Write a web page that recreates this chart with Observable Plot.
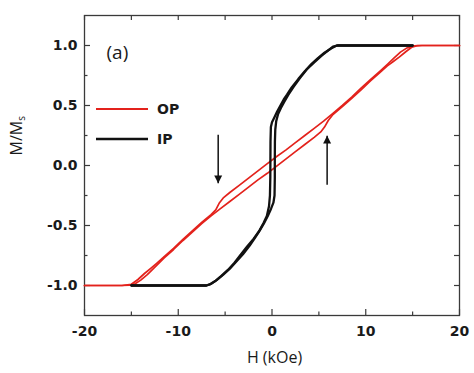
<!DOCTYPE html>
<html><head><meta charset="utf-8">
<script src="https://cdn.jsdelivr.net/npm/d3@7"></script>
<script src="https://cdn.jsdelivr.net/npm/@observablehq/plot@0.6"></script>
<style>body{margin:0;background:#fff}</style>
</head><body><div id="chart"></div>
<script>
// ---- Data ----
// IP (in-plane), descending branch (+15 -> -15 kOe)
const ipDownH = [15, 12, 9, 6.9, 6.3, 5.6, 4.9, 4.2, 3.5, 2.8, 2.1, 1.6, 1.25, 0.9, 0.55, 0.25, 0.0, -0.12, -0.16, -0.17, -0.18, -0.22, -0.32, -0.55, -0.9, -1.4, -1.95, -2.65, -3.3, -4.0, -4.7, -5.4, -6.0, -6.6, -7.0, -9, -12, -15];
const ipDownM = [1, 1, 1, 1, 0.975, 0.94, 0.895, 0.845, 0.785, 0.72, 0.65, 0.59, 0.55, 0.5, 0.45, 0.4, 0.36, 0.32, 0.2, 0.05, -0.1, -0.25, -0.34, -0.42, -0.48, -0.55, -0.61, -0.675, -0.74, -0.81, -0.87, -0.92, -0.96, -0.99, -1, -1, -1, -1];
// IP, ascending branch (-15 -> +15 kOe)
const ipUpH = [-15, -12, -9, -7.0, -6.5, -5.9, -5.2, -4.5, -3.8, -3.1, -2.4, -1.8, -1.3, -0.85, -0.45, -0.1, 0.15, 0.27, 0.3, 0.3, 0.31, 0.35, 0.45, 0.65, 0.95, 1.3, 1.75, 2.3, 3.0, 3.7, 4.5, 5.3, 6.0, 6.5, 7.0, 9, 12, 15];
const ipUpM = [-1, -1, -1, -1, -0.985, -0.955, -0.91, -0.86, -0.8, -0.74, -0.67, -0.6, -0.54, -0.48, -0.42, -0.36, -0.31, -0.25, -0.1, 0.05, 0.2, 0.3, 0.37, 0.43, 0.48, 0.53, 0.59, 0.655, 0.73, 0.8, 0.86, 0.915, 0.96, 0.99, 1, 1, 1, 1];
// OP (out-of-plane), descending branch (+20 -> -20 kOe)
const opDownH = [20, 17, 15.5, 15.0, 14.4, 13.7, 13.0, 12.4, 11.5, 10.5, 9.5, 8.5, 7.5, 6.5, 5.5, 4.5, 3.5, 2.5, 1.5, 0.5, -0.5, -1.5, -2.5, -3.5, -4.5, -5.2, -5.6, -6.0, -6.5, -7.5, -8.5, -9.5, -10.5, -11.5, -12.3, -12.9, -13.6, -14.3, -15.0, -16, -18, -20];
const opDownM = [1, 1, 1, 0.995, 0.98, 0.945, 0.895, 0.85, 0.785, 0.715, 0.645, 0.57, 0.5, 0.435, 0.37, 0.31, 0.25, 0.19, 0.13, 0.075, 0.015, -0.045, -0.105, -0.165, -0.225, -0.27, -0.31, -0.37, -0.41, -0.475, -0.545, -0.615, -0.69, -0.76, -0.815, -0.855, -0.9, -0.95, -0.99, -1, -1, -1];
// OP, ascending branch (-20 -> +20 kOe)
const opUpH = [-20, -18, -16, -15.2, -14.6, -14.0, -13.3, -12.6, -11.5, -10.5, -9.5, -8.5, -7.5, -6.5, -5.5, -4.5, -3.5, -2.5, -1.5, -0.5, 0.5, 1.5, 2.5, 3.5, 4.5, 5.2, 5.6, 6.0, 6.5, 7.5, 8.5, 9.5, 10.5, 11.5, 12.3, 12.9, 13.6, 14.3, 14.9, 15.4, 16, 18, 20];
const opUpM = [-1, -1, -1, -0.997, -0.985, -0.955, -0.91, -0.855, -0.77, -0.70, -0.625, -0.555, -0.485, -0.42, -0.36, -0.30, -0.24, -0.18, -0.12, -0.065, -0.005, 0.055, 0.115, 0.175, 0.235, 0.28, 0.32, 0.375, 0.425, 0.49, 0.56, 0.63, 0.705, 0.775, 0.83, 0.865, 0.905, 0.95, 0.985, 0.997, 1, 1, 1];
// sweep-direction arrows
const arrowH = [-5.74, 5.88];
const arrowFrom = [0.256, -0.16];
const arrowTo = [-0.147, 0.247];
// axes
const xTicks = [-20, -10, 0, 10, 20];
const xMinor = [-15, -5, 5, 15];
const xAll = [-20, -15, -10, -5, 0, 5, 10, 15, 20];
const yTicks = [-1, -0.5, 0, 0.5, 1];
const yMinor = [-0.75, -0.25, 0.25, 0.75];
const yAll = [-1, -0.75, -0.5, -0.25, 0, 0.25, 0.5, 0.75, 1];
const seriesNames = ["OP", "IP"];
const seriesColors = ["#e3221c", "#111111"];

// ---- build ----
const zip = (H, M) => H.map((h, i) => ({h, m: M[i]}));
const ipDown = zip(ipDownH, ipDownM), ipUp = zip(ipUpH, ipUpM);
const opDown = zip(opDownH, opDownM), opUp = zip(opUpH, opUpM);
const arrows = arrowH.map((h, i) => ({h, from: arrowFrom[i], to: arrowTo[i]}));

const W = 474, Ht = 373, mL = 84, mR = 15, mT = 15, mB = 58;
const fw = W - mL - mR, fh = Ht - mT - mB;
const axisColor = "#3a3a3a";
const textColor = "#1a1a1a";

const headDown = {draw(ctx, size) { const a = Math.sqrt(size) * 1.5, h = a * 0.95; ctx.moveTo(0, 0); ctx.lineTo(-a / 2, -h); ctx.lineTo(a / 2, -h); ctx.closePath(); }};
const headUp = {draw(ctx, size) { const a = Math.sqrt(size) * 1.5, h = a * 0.95; ctx.moveTo(0, 0); ctx.lineTo(-a / 2, h); ctx.lineTo(a / 2, h); ctx.closePath(); }};

const lineOpts = (c, w) => ({x: "h", y: "m", stroke: c, strokeWidth: w, strokeLinejoin: "round", strokeLinecap: "round"});

const plot = Plot.plot({
  width: W, height: Ht,
  marginLeft: mL, marginRight: mR, marginTop: mT, marginBottom: mB,
  x: {domain: [-20, 20]},
  y: {domain: [-1.25, 1.25]},
  style: {fontFamily: "DejaVu Sans", fontSize: "13px", color: textColor, background: "#fff"},
  marks: [
    // ticks (inward)
    Plot.ruleX(xTicks, {x: d => d, insetTop: fh - 6, stroke: axisColor, strokeWidth: 1.2}),
    Plot.ruleX(xMinor, {x: d => d, insetTop: fh - 3.5, stroke: axisColor, strokeWidth: 1.2}),
    Plot.ruleX(xAll, {x: d => d, insetBottom: fh - 5, stroke: axisColor, strokeWidth: 1.2}),
    Plot.ruleY(yTicks, {y: d => d, insetRight: fw - 6, stroke: axisColor, strokeWidth: 1.2}),
    Plot.ruleY(yMinor, {y: d => d, insetRight: fw - 3.5, stroke: axisColor, strokeWidth: 1.2}),
    Plot.ruleY(yAll, {y: d => d, insetLeft: fw - 5, stroke: axisColor, strokeWidth: 1.2}),
    Plot.frame({stroke: axisColor, strokeWidth: 1.3}),
    Plot.axisX({ticks: xTicks, tickSize: 0, tickPadding: 11, tickFormat: d => String(d), label: null, fontWeight: "bold", fontSize: 14, fill: textColor}),
    Plot.axisY({ticks: yTicks, tickSize: 0, tickPadding: 7, tickFormat: d => d.toFixed(1), label: null, fontWeight: "bold", fontSize: 14, fill: textColor}),
    // data
    Plot.line(opDown, lineOpts(seriesColors[0], 1.7)),
    Plot.line(opUp, lineOpts(seriesColors[0], 1.7)),
    Plot.line(ipDown, lineOpts(seriesColors[1], 2.3)),
    Plot.line(ipUp, lineOpts(seriesColors[1], 2.3)),
    // arrows
    Plot.link(arrows, {x1: "h", x2: "h", y1: "from", y2: "to", stroke: "#111", strokeWidth: 1.5}),
    Plot.dot(arrows.filter(d => d.to < d.from), {x: "h", y: "to", symbol: headDown, r: 3, fill: "#111", stroke: "none"}),
    Plot.dot(arrows.filter(d => d.to > d.from), {x: "h", y: "to", symbol: headUp, r: 3, fill: "#111", stroke: "none"}),
    // texts
    Plot.text(["(a)"], {text: d => d, frameAnchor: "top-left", dx: 22, dy: 30, textAnchor: "start", fontSize: 19, fontFamily: "Open Sans", fill: textColor}),
    Plot.text(["H (kOe)"], {text: d => d, frameAnchor: "bottom", dx: 2.5, dy: 47, fontSize: 16, fontFamily: "Open Sans", fill: textColor}),
    Plot.text(["M/Ms"], {text: d => d, frameAnchor: "left", dx: -68, dy: -10, rotate: -90, fontSize: 16, fontFamily: "Open Sans", fill: textColor})
  ]
});

// subscript for M/Ms
d3.select(plot).selectAll("text").filter(function() { return this.textContent === "M/Ms"; }).each(function() {
  const t = d3.select(this);
  t.text("M/M");
  t.append("tspan").attr("font-size", "0.62em").attr("dy", "0.3em").text("s");
});

// legend
const lg = d3.select(plot).append("g");
seriesNames.forEach((name, i) => {
  const y = mT + 94 + i * 30;
  lg.append("line").attr("x1", mL + 12).attr("x2", mL + 64).attr("y1", y).attr("y2", y)
    .attr("stroke", seriesColors[i]).attr("stroke-width", i === 0 ? 2 : 2.5);
  lg.append("text").attr("x", mL + 73).attr("y", y).attr("dy", "0.36em")
    .attr("text-anchor", "start")
    .attr("font-family", "DejaVu Sans").attr("font-weight", "bold").attr("font-size", 14)
    .attr("fill", textColor).text(name);
});

document.getElementById("chart").appendChild(plot);
</script>
</body></html>
